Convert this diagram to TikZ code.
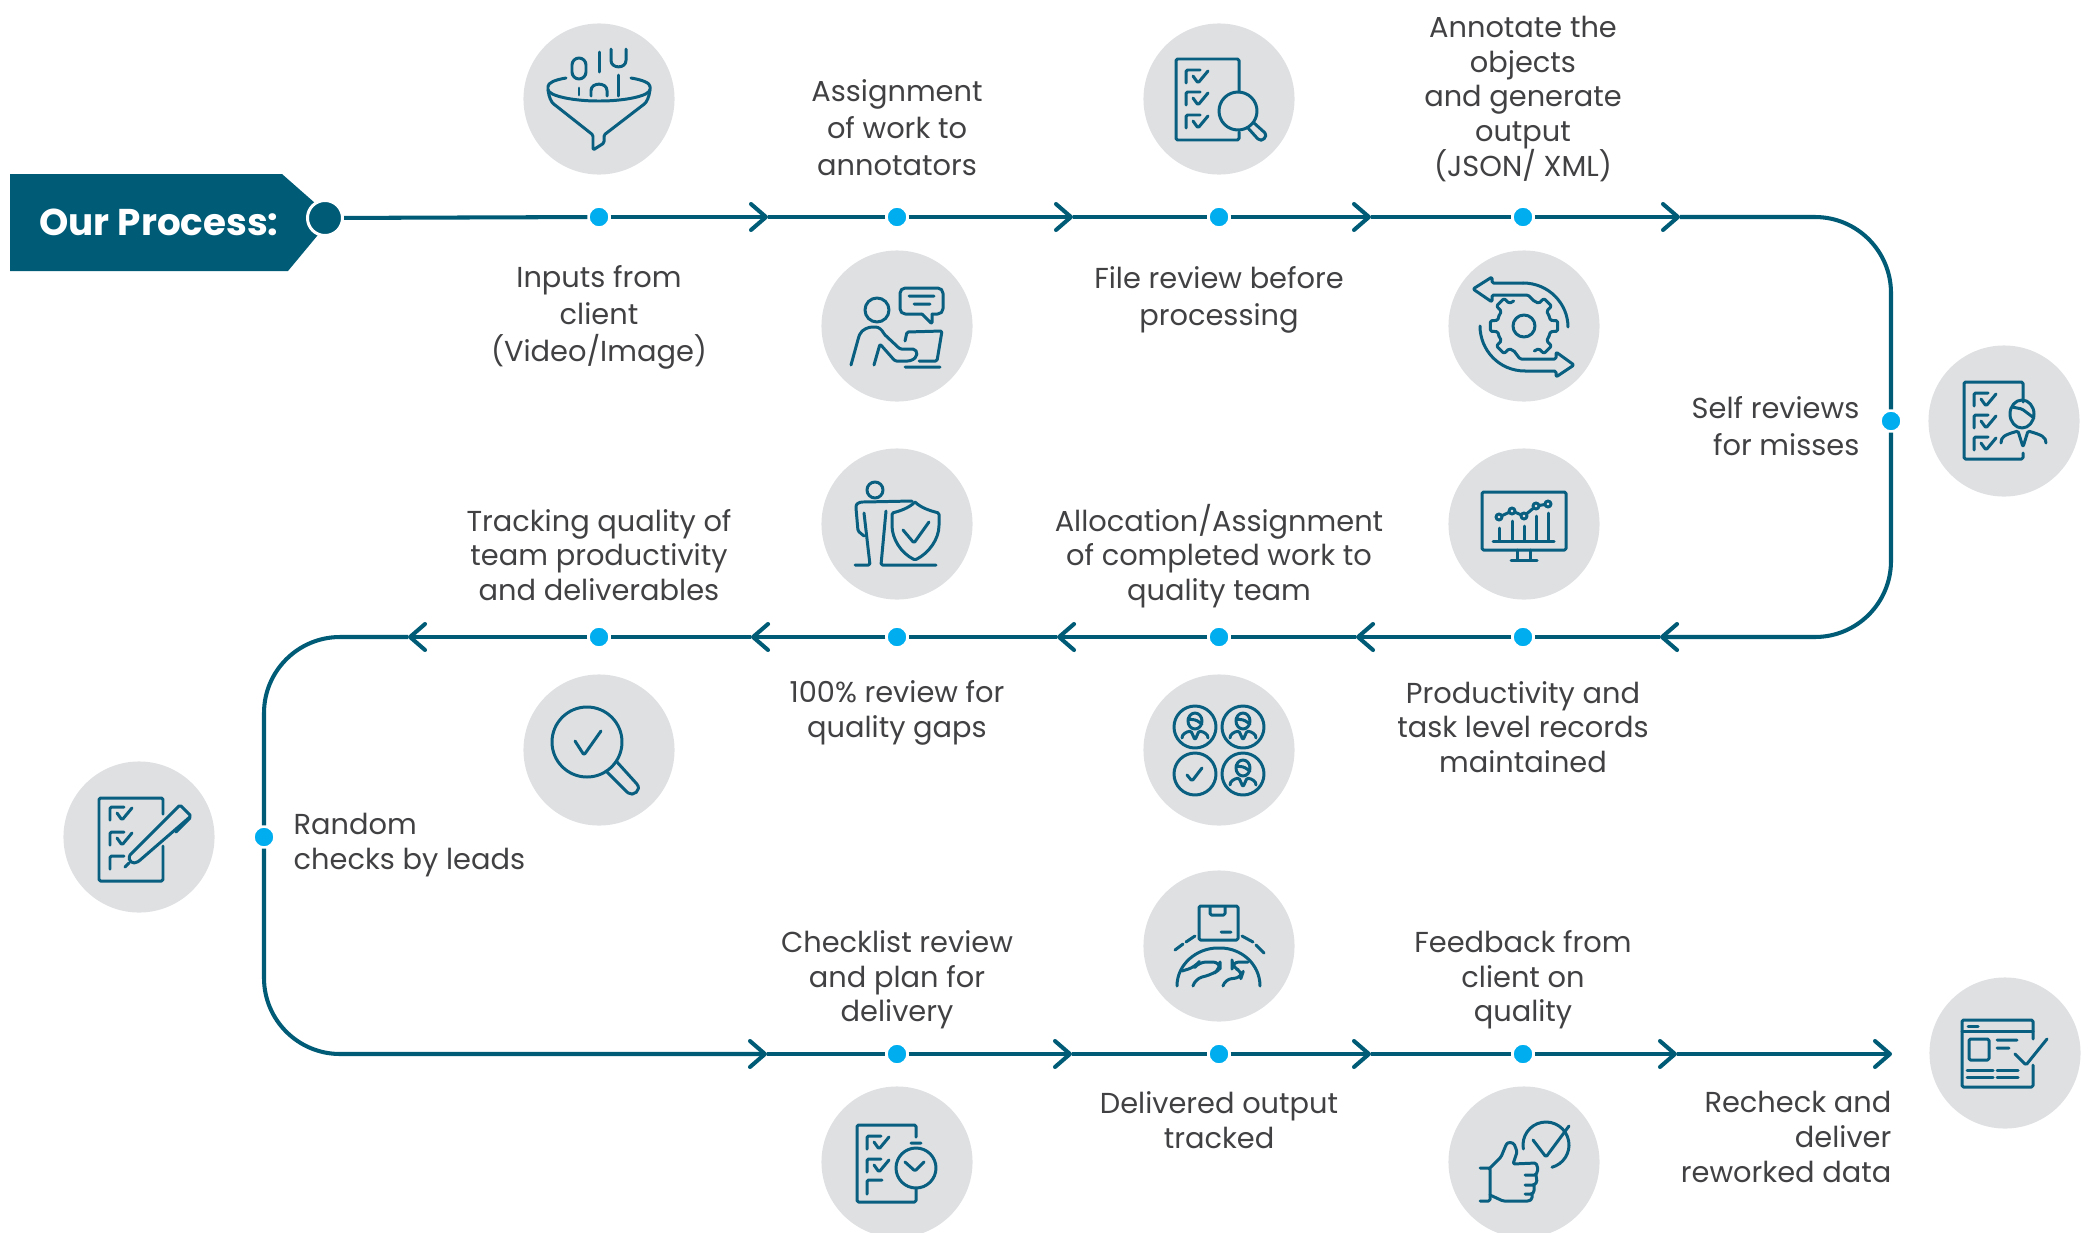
\documentclass[tikz,border=0pt]{standalone}
\usepackage{fontspec}
\setmainfont{Poppins}
\usetikzlibrary{arrows.meta}
\definecolor{flowcolor}{HTML}{005B76}
\definecolor{iconcolor}{HTML}{085F80}
\definecolor{discgrey}{HTML}{DFE0E2}
\definecolor{dotblue}{HTML}{00AEEF}
\definecolor{textgrey}{HTML}{414042}
\tikzstyle{flow}=[line width=1.15pt, draw=flowcolor]
\tikzstyle{flowtip}=[flow, -{Straight Barb[length=1.5mm,width=2.6mm,round]}]
\tikzstyle{disc}=[circle, fill=discgrey, minimum size=1.51cm, inner sep=0pt]
\tikzstyle{flowdot}=[circle, fill=dotblue, draw=white, line width=0.7pt, minimum size=0.21cm, inner sep=0pt]
\tikzstyle{startdot}=[circle, fill=flowcolor, draw=white, line width=0.85pt, minimum size=0.35cm, inner sep=0pt]
\tikzstyle{caption}=[text=textgrey, align=center, inner sep=0pt, font=\fontsize{8.2}{9.87}\selectfont]
\tikzstyle{captionwide}=[caption, font=\fontsize{8.2}{10.5}\selectfont]
\tikzstyle{iconline}=[draw=iconcolor, line width=0.85pt, line cap=round, line join=round, rounded corners=0.4pt]
\newcommand{\tickbox}[2]{\draw[iconline, shift={(#1,#2)}] (14,0) -- (0,0) -- (0,13) (7,6) -- (12,13) -- (22,1);}
\newcommand{\teammate}[2]{\draw[iconline, shift={(#1,#2)}] (0,-6) ellipse [x radius=7, y radius=8] (-7,-8) -- (1,-7) -- (7,-3)
  (-13,11) .. controls (-13,7) and (-9,5) .. (-4,4) -- (0,13) -- (4,4) .. controls (9,5) and (13,7) .. (13,11);}
\begin{document}
\begin{tikzpicture}[x=0.01cm, y=-0.01cm]
  \useasboundingbox (0,0) rectangle (2093,1233);
  \foreach \name/\xpos/\ypos in {disc1/599/99, disc2/897/326, disc3/1219/99, disc4/1524/326, disc5/2004/421,
      disc6/1524/524, disc7/1219/750, disc8/897/524, disc9/599/750, disc10/139/837,
      disc11/897/1162, disc12/1219/946, disc13/1524/1162, disc14/2005/1053}
    \node[disc] (\name) at (\xpos,\ypos) {};
  \fill[flowcolor] (10,174) -- (282,174) -- (332,218) -- (288,271) -- (10,271) -- cycle;
  \node[text=white, font=\fontsize{10.6}{12}\selectfont\bfseries] (bannerlabel) at (159,222) {Our Process:};
  \node[startdot] (start) at (325,218) {};
  \foreach \name/\xpos/\ypos in {dot1/599/217, dot2/897/217, dot3/1219/217, dot4/1523/217, dot5/1891/421,
      dot6/1523/637, dot7/1219/637, dot8/897/637, dot9/599/637, dot10/264/837,
      dot11/897/1054, dot12/1219/1054, dot13/1523/1054}
    \node[flowdot] (\name) at (\xpos,\ypos) {};
  \foreach \name/\xpos/\ypos in {chev1/768/217, chev2/1073/217, chev3/1371/217, chev4/1680/217,
      chev5/1660/637, chev6/1356/637, chev7/1057/637, chev8/751/637, chev9/408/637,
      chev10/767/1054, chev11/1072/1054, chev12/1371/1054, chev13/1677/1054, chev14/1892/1054}
    \coordinate (\name) at (\xpos,\ypos);
  \foreach \from/\to in {start/dot1, chev1/dot2, chev2/dot3, chev3/dot4, chev5/dot6, chev6/dot7,
      chev7/dot8, chev8/dot9, chev10/dot11, chev11/dot12, chev12/dot13}
    \draw[flow] (\from) -- (\to);
  \foreach \from/\to in {dot1/chev1, dot2/chev2, dot3/chev3, dot4/chev4, dot6/chev6, dot7/chev7,
      dot8/chev8, dot9/chev9, dot11/chev11, dot12/chev12, dot13/chev13, chev13/chev14}
    \draw[flowtip] (\from) -- (\to);
  \draw[flow, rounded corners=0.76cm] (chev4) -| (dot5);
  \draw[flowtip, rounded corners=0.76cm] (dot5) |- (chev5);
  \draw[flow, rounded corners=0.76cm] (chev9) -| (dot10);
  \draw[flowtip, rounded corners=0.76cm] (dot10) |- (chev10);

  \node[captionwide] (cap1) at (599,317) {Inputs from\\client\\(Video/Image)};
  \node[captionwide] (cap2) at (897,128) {Assignment\\of work to\\annotators};
  \node[captionwide] (cap3) at (1219,300) {File review before\\processing};
  \node[caption] (cap4) at (1523,99) {Annotate the\\objects\\and generate\\output\\(JSON/ XML)};
  \node[captionwide, anchor=east, align=right] (cap5) at (1860,426) {Self reviews\\for misses};
  \node[caption] (cap6) at (1523,727) {Productivity and\\task level records\\maintained};
  \node[caption] (cap7) at (1219,556) {Allocation/Assignment\\of completed work to\\quality team};
  \node[caption] (cap8) at (897,713) {100\% review for\\quality gaps};
  \node[caption] (cap9) at (599,555) {Tracking quality of\\team productivity\\and deliverables};
  \node[caption, anchor=west, align=left] (cap10) at (293,845) {Random\\checks by leads};
  \node[caption] (cap11) at (897,980) {Checklist review\\and plan for\\delivery};
  \node[caption] (cap12) at (1219,1120) {Delivered output\\tracked};
  \node[caption] (cap13) at (1523,980) {Feedback from\\client on\\quality};
  \node[caption, anchor=east, align=right] (cap14) at (1892,1137) {Recheck and\\deliver\\reworked data};

  \begin{scope}[shift={(disc1)}]
    \draw[iconline] (-33,-21) .. controls (-45,-19) and (-51,-16) .. (-51,-11) .. controls (-51,-3) and (-25,2) .. (0,2)
      .. controls (25,2) and (51,-3) .. (51,-11) .. controls (51,-16) and (44,-19) .. (32,-21);
    \draw[iconline] (-51,-9) .. controls (-50,-2) and (-48,3) .. (-44,6) -- (-6,36) -- (-6,51) -- (5,44) -- (5,36) -- (44,6)
      .. controls (48,3) and (50,-2) .. (51,-9);
    \draw[iconline, rounded corners=2pt] (-27,-41) rectangle (-13,-20);
    \draw[iconline] (0,-47) -- (0,-27) (-20,-11) -- (-20,-4) (19,-24) -- (19,-3);
    \draw[iconline] (12,-50) -- (12,-40) .. controls (12,-30) and (27,-30) .. (27,-40) -- (27,-50);
    \draw[iconline] (-8,-3) -- (-8,-7) .. controls (-8,-17) and (8,-17) .. (8,-7) -- (8,-3);
  \end{scope}
  \begin{scope}[shift={(disc2)}]
    \draw[iconline] (-20,-16) circle [radius=12];
    \draw[iconline, rounded corners=1.5pt] (25,-12) -- (3,-12) -- (3,-38) -- (46,-38) -- (46,-12) -- (35,-12);
    \draw[iconline] (25,-12) -- (35,-2) -- (35,-12) (12,-30) -- (37,-30) (17,-22) -- (33,-22);
    \draw[iconline] (-46,39) -- (-38,10) .. controls (-35,3) and (-28,1) .. (-23,1) .. controls (-18,1) and (-15,4) .. (-13,8) -- (3,23) -- (15,23)
      .. controls (21,24) and (22,32) .. (12,35) -- (-2,35) -- (-17,18) -- (-23,39);
    \draw[iconline] (8,15) -- (10,6) -- (45,5) -- (40,35) -- (22,35) (8,41) -- (43,41);
  \end{scope}
  \begin{scope}[shift={(disc3)}]
    \draw[iconline] (20,-7) -- (20,-40) -- (-43,-40) -- (-43,41) -- (20,41) -- (20,33);
    \tickbox{-33}{-29} \tickbox{-33}{-7} \tickbox{-33}{16}
    \draw[iconline] (19,12) circle [radius=19];
    \draw[iconline] (29,29) -- (38,39) .. controls (43,44) and (49,37) .. (45,33) -- (35,24);
  \end{scope}
  \begin{scope}[shift={(disc4)}]
    \draw[iconline] (-1,-43) -- (-32,-43) -- (-32,-49) -- (-51,-37) -- (-32,-24) -- (-32,-31) -- (4,-31) -- (10,-25);
    \draw[iconline] (-1,-43) .. controls (25,-43) and (44,-22) .. (44,1);
    \draw[iconline] (1,45) -- (32,45) -- (32,51) -- (50,39) -- (32,26) -- (32,33) -- (-4,33) -- (-10,25);
    \draw[iconline] (1,45) .. controls (-25,45) and (-44,24) .. (-44,0);
    \foreach \a in {-45,0,45,135,180,225}
      \draw[iconline] ({\a-22.5}:27) -- ({\a-12}:27) -- ({\a-9}:34) -- ({\a+9}:34) -- ({\a+12}:27) -- ({\a+22.5}:27);
    \draw[iconline] (0,0) circle [radius=11];
  \end{scope}
  \begin{scope}[shift={(disc5)}]
    \draw[iconline] (19,-19) -- (19,-39) -- (-40,-39) -- (-40,38) -- (19,38) -- (19,32);
    \tickbox{-30}{-28} \tickbox{-30}{-6} \tickbox{-30}{16}
    \draw[iconline] (18,-7) ellipse [x radius=12, y radius=14] (8,-14) -- (18,-12) -- (30,-3);
    \draw[iconline] (-3,22) .. controls (-3,16) and (0,14) .. (14,10) -- (19,26) -- (24,10) .. controls (38,14) and (42,16) .. (42,22);
  \end{scope}
  \begin{scope}[shift={(disc6)}]
    \draw[iconline] (-42,-32) rectangle (42,26);
    \draw[iconline] (-7,26) -- (-7,36) (6,26) -- (6,36) (-13,36) -- (13,36) (-31,17) -- (30,17);
    \foreach \xpos/\ytop in {-25/4, -12/-3, 0/2, 12/-8, 24/-11}
      \draw[iconline] (\xpos,17) -- (\xpos,\ytop);
    \draw[iconline] (-25,-7) -- (-12,-13) -- (0,-8) -- (12,-18) -- (24,-20);
    \foreach \xpos/\ypos in {-25/-7, -12/-13, 0/-8, 12/-18, 24/-20}
      \draw[iconline, fill=discgrey] (\xpos,\ypos) circle [radius=3];
  \end{scope}
  \begin{scope}[shift={(disc7)}]
    \foreach \xpos/\ypos in {-24/-23, 24/-23, -24/24, 24/24}
      \draw[iconline] (\xpos,\ypos) circle [radius=21];
    \teammate{-24}{-23} \teammate{24}{-23} \teammate{24}{24}
    \draw[iconline] (-32,25) -- (-27,31) -- (-17,18);
  \end{scope}
  \begin{scope}[shift={(disc8)}]
    \draw[iconline] (-22,-34) circle [radius=8];
    \draw[iconline] (15,-23) -- (-33,-22) .. controls (-38,-22) and (-41,-20) .. (-41,-16) -- (-39,7) -- (-33,12);
    \draw[iconline] (-33,-11) -- (-27,41) -- (-42,41) (-11,-13) -- (-16,41) -- (39,41);
    \draw[iconline] (18,-22) .. controls (24,-16) and (34,-13) .. (42,-11) -- (42,0) .. controls (42,15) and (32,29) .. (18,36)
      .. controls (4,29) and (-5,15) .. (-5,0) -- (-5,-11) .. controls (3,-13) and (12,-16) .. (18,-22);
    \draw[iconline] (6,6) -- (17,19) -- (32,-2);
  \end{scope}
  \begin{scope}[shift={(disc9)}]
    \draw[iconline] (-12,-8) circle [radius=35];
    \draw[iconline] (-24,-9) -- (-15,5) -- (2,-19);
    \draw[iconline] (7,21) -- (28,42) .. controls (34,47) and (43,40) .. (37,33) -- (18,12);
  \end{scope}
  \begin{scope}[shift={(disc10)}]
    \draw[iconline] (24,-23) -- (24,-39) -- (-40,-39) -- (-40,44) -- (24,44) -- (24,9);
    \tickbox{-29}{-30} \tickbox{-29}{-5}
    \draw[iconline] (-15,19) -- (-29,19) -- (-29,32);
    \draw[iconline] (-9,18) -- (41,-32) -- (52,-21) -- (0,24) .. controls (-6,28) and (-12,24) .. (-9,18);
    \draw[iconline] (-10,26) -- (-14,30) (37,-5) -- (51,-19);
  \end{scope}
  \begin{scope}[shift={(disc11)}]
    \draw[iconline] (19,-25) -- (19,-37) -- (-40,-37) -- (-40,40) -- (19,40) -- (19,27);
    \tickbox{-30}{-26} \tickbox{-30}{-3}
    \draw[iconline] (-15,18) -- (-30,18) -- (-30,32);
    \draw[iconline] (19,6) circle [radius=20];
    \draw[iconline] (14,-19) -- (24,-19) (8,0) -- (18,9) -- (27,0);
  \end{scope}
  \begin{scope}[shift={(disc12)}]
    \draw[iconline] (-20,-40) rectangle (19,-6);
    \draw[iconline] (-9,-39) -- (-9,-31) -- (6,-31) -- (6,-39) (2,-14) -- (12,-14);
    \draw[iconline] (-44,4) -- (-36,-2) (-33,-4) -- (-24,-10) (23,-10) -- (34,-4) (37,-1) -- (45,7);
    \draw[iconline] (-42,40) .. controls (-42,18) and (-22,2) .. (0,2) .. controls (22,2) and (41,18) .. (41,40);
    \draw[iconline, rounded corners=2pt] (-37,25) -- (-24,21) -- (-20,16) -- (1,16) -- (1,23) -- (-6,28) -- (-24,33) -- (-26,40);
    \draw[iconline, rounded corners=2pt] (29,16) -- (13,16) -- (13,21) -- (24,26) -- (22,32) -- (6,33) -- (4,40);
  \end{scope}
  \begin{scope}[shift={(disc13)}]
    \draw[iconline] (22,-17) ++ (170:23) arc [start angle=170, end angle=435, radius=23];
    \draw[iconline] (9,-22) -- (22,-5) -- (45,-36);
    \draw[iconline] (-44,6) -- (-34,6) -- (-34,39) -- (-44,39);
    \draw[iconline] (-34,6) -- (-23,-5) -- (-18,-17) .. controls (-16,-20) and (-11,-20) .. (-9,-16) -- (-7,-10) -- (-11,2) -- (12,1) -- (14,7) -- (12,13) -- (1,13);
    \draw[iconline] (12,13) -- (13,20) -- (10,23) -- (1,23) (10,23) -- (10,30) -- (8,32) -- (1,32) (8,32) -- (8,37) -- (5,39) -- (-21,39) -- (-34,33);
  \end{scope}
  \begin{scope}[shift={(disc14)}]
    \draw[iconline] (28,-14) -- (28,-33) -- (-43,-33) -- (-43,34) -- (28,34) -- (28,12);
    \draw[iconline] (-43,-22) -- (28,-22) (-37,-27) -- (-27,-27);
    \draw[iconline] (-36,-14) rectangle (-16,7);
    \draw[iconline] (-8,-13) -- (12,-13) (-8,-5) -- (4,-5) (10,1) -- (21,12) -- (42,-14);
    \draw[iconline] (-38,17) -- (-12,17) (-8,17) -- (13,17) (-38,24) -- (-12,24) (-8,24) -- (13,24);
  \end{scope}
\end{tikzpicture}
\end{document}
